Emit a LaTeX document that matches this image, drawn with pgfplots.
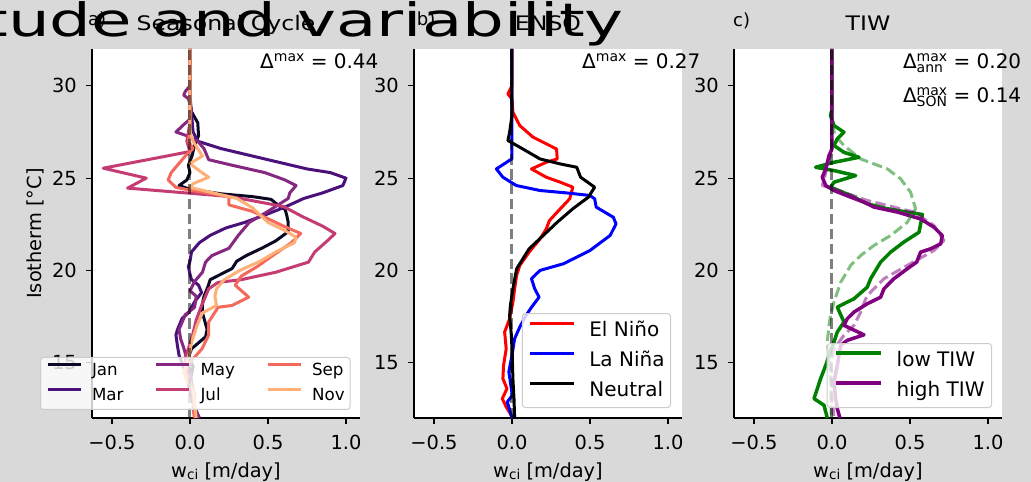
\documentclass[border=0pt]{standalone}
\usepackage{fontspec}
\setmainfont{DejaVu Sans}
\usepackage{pgfplots}
\pgfplotsset{compat=1.18}

\definecolor{figbg}{RGB}{217,217,217}
\definecolor{mJan}{HTML}{0B0924}
\definecolor{mMar}{HTML}{4B117A}
\definecolor{mMay}{HTML}{862781}
\definecolor{mJul}{HTML}{C53C74}
\definecolor{mSep}{HTML}{F4695C}
\definecolor{mNov}{HTML}{FEB078}
\definecolor{tiwgreen}{RGB}{0,128,0}
\definecolor{tiwpurple}{RGB}{128,0,128}

\newcommand{\fs}[1]{\fontsize{#1}{#1}\selectfont}
% Delta with stacked super- and subscript
\newcommand{\dsup}[1]{Δ{\fs{14}\raisebox{6.8pt}{#1}}}
\newcommand{\dsupsub}[2]{Δ{\fs{14}\setbox0=\hbox{\raisebox{6.8pt}{#1}}\setbox2=\hbox{\raisebox{-4pt}{#2}}%
  \ifdim\wd0>\wd2 \rlap{\box2}\box0\else\rlap{\box0}\box2\fi}}

\pgfplotsset{
  panel/.style={
    scale only axis, width=268pt, height=369pt,
    xmin=-0.628, xmax=1.09, ymin=12, ymax=32,
    axis lines*=left,
    axis line style={line width=1.1pt, black},
    tick align=outside, major tick length=6pt,
    tick style={line width=1.1pt, black},
    xtick={-0.5,0,0.5,1}, xticklabels={−0.5,0.0,0.5,1.0},
    ytick={15,20,25,30}, yticklabels={15,20,25,30},
    tick label style={font=\fs{19.4}},
    xticklabel style={anchor=north, inner sep=0pt, yshift=-11pt},
    yticklabel style={anchor=east, inner sep=0pt, xshift=-9pt},
    axis background/.style={fill=white},
    clip=false,
    xlabel={w{\fs{13.6}\raisebox{-2pt}{ci}} [m/day]},
    xlabel style={at={(axis description cs:0.5,-0.16)}, anchor=base, inner sep=0pt, font=\fs{19.4}},
    title style={at={(axis description cs:0.5,1)}, anchor=base, yshift=12pt, inner sep=0pt, xscale=1.18, font=\fs{20}},
    every axis plot/.append style={line width=3pt, line join=round},
    legend cell align=left,
    legend style={draw=black!20, line width=1pt, rounded corners=3pt,
      fill=white, fill opacity=0.8, text opacity=1},
  },
  zeroline/.style={black, opacity=0.5, line width=3pt, dash pattern=on 10.4pt off 4.5pt, forget plot},
}

\begin{document}
\begin{tikzpicture}[x=1pt,y=1pt]
\useasboundingbox (0,0) rectangle (1031,482);
\fill[figbg] (0,0) rectangle (1031,482);

% ---------------- a) seasonal cycle ----------------
\begin{axis}[panel, at={(92pt,64pt)}, anchor=south west,
  title={Seasonal Cycle},
  ylabel={Isotherm [°C]},
  ylabel style={at={(axis description cs:-0.187,0.5)}, rotate=0, anchor=base, inner sep=0pt, font=\fs{19.4}},
  legend columns=2, transpose legend,
  legend style={at={(axis description cs:-0.194,0.0217)}, anchor=south west,
    font=\fs{16.7}, inner xsep=5.5pt, inner ysep=5pt, row sep=8pt,
    nodes={inner sep=0pt, text height=13pt, text depth=4pt},
    /tikz/every odd column/.append style={column sep=10pt},
    /tikz/every even column/.append style={column sep=31pt}},
  legend image code/.code={\draw[#1, line width=3pt] (0pt,6pt) -- (33pt,6pt);},
]
\addplot[mJan] coordinates {(0.0,32) (0.0,29.0) (0.01,28.6) (0.05,28.0) (0.055,27.3) (0.03,26.8) (0.013,26.2) (-0.01,25.7) (0.0,25.3) (-0.02,24.9) (-0.07,24.6) (0.0,24.4) (0.2,24.15) (0.4,24.0) (0.52,23.85) (0.57,23.5) (0.61,23.3) (0.62,23.0) (0.63,22.6) (0.63,22.1) (0.55,21.6) (0.46,21.2) (0.36,20.8) (0.30,20.5) (0.27,20.1) (0.2,19.8) (0.13,19.5) (0.11,19.0) (0.09,18.6) (0.08,18.2) (0.08,17.7) (0.11,16.8) (0.1,16.4) (0.01,15.75) (-0.01,15.3) (0.02,14.8) (0.0,14.0) (0.02,13.0) (0.04,12.0)};
\addplot[mMar] coordinates {(0.0,32) (0.0,29.5) (0.01,28.5) (0.02,27.5) (0.05,27.0) (0.2,26.6) (0.4,26.2) (0.6,25.8) (0.75,25.5) (0.9,25.3) (1.0,25.0) (0.98,24.6) (0.85,24.2) (0.73,23.9) (0.6,23.4) (0.48,23.0) (0.35,22.6) (0.23,22.3) (0.13,21.9) (0.06,21.5) (0.01,21.0) (0.0,20.5) (-0.01,20.2) (0.0,19.8) (0.01,19.5) (0.055,19.2) (0.075,18.8) (0.03,18.3) (-0.01,17.7) (-0.05,17.4) (-0.08,16.8) (-0.09,16.5) (-0.08,15.9) (-0.07,15.4) (-0.03,14.5) (0.0,13.5) (0.02,12.8) (0.06,12.0)};
\addplot[mMay] coordinates {(0.0,32) (0.0,30.0) (-0.03,29.7) (-0.04,29.5) (-0.01,29.3) (0.01,28.7) (0.0,28.2) (-0.04,27.9) (-0.09,27.5) (-0.02,27.3) (0.05,27.0) (0.09,26.6) (0.12,26.0) (0.27,25.7) (0.48,25.3) (0.61,24.9) (0.68,24.6) (0.64,24.2) (0.63,23.9) (0.5,23.2) (0.38,22.6) (0.31,21.9) (0.25,21.2) (0.14,20.8) (0.1,20.45) (0.08,19.9) (0.03,19.4) (0.0,18.9) (0.04,18.6) (0.03,18.0) (-0.03,17.6) (-0.05,17.2) (-0.07,16.8) (-0.06,16.3) (-0.04,15.8) (-0.02,15.2) (0.0,14.5) (0.02,13.5) (0.03,12.5) (0.06,12.0)};
\addplot[mJul] coordinates {(0.0,32) (0.0,28.0) (-0.01,27.5) (-0.02,27.0) (0.0,26.44) (-0.556,25.54) (-0.28,25.0) (-0.40,24.46) (0.26,24.0) (0.60,23.46) (0.72,22.92) (0.85,22.4) (0.93,22.0) (0.88,21.6) (0.8,21.0) (0.76,20.45) (0.55,19.9) (0.33,19.5) (0.18,19.35) (0.12,19.0) (0.1,18.6) (0.07,18.0) (0.04,17.3) (0.02,16.6) (0.0,16.0) (-0.03,15.3) (-0.02,14.5) (0.0,13.8) (0.02,13.0) (0.03,12.0)};
\addplot[mSep] coordinates {(0.0,32) (0.0,28.0) (0.0,27.5) (-0.01,27.0) (0.02,26.6) (-0.03,26.2) (-0.12,25.3) (-0.14,24.9) (-0.09,24.5) (0.0,24.35) (0.25,24.0) (0.25,23.55) (0.4,23.2) (0.5,22.8) (0.6,22.4) (0.71,22.0) (0.65,21.5) (0.53,20.8) (0.43,20.2) (0.33,19.7) (0.29,19.2) (0.376,18.55) (0.27,18.1) (0.18,18.0) (0.12,17.2) (0.12,16.5) (0.077,15.75) (0.03,15.3) (0.0,15.0) (-0.03,14.5) (0.0,14.0) (0.03,13.3) (0.02,12.5) (0.03,12.0)};
\addplot[mNov] coordinates {(0.0,32) (0.0,27.5) (0.02,27.0) (0.08,26.2) (0.0,25.8) (0.06,25.4) (0.12,25.05) (0.02,24.7) (0.0,24.5) (0.15,24.2) (0.3,23.9) (0.40,23.4) (0.45,23.0) (0.5,22.6) (0.6,22.2) (0.68,21.8) (0.67,21.5) (0.55,21.0) (0.45,20.5) (0.32,20.0) (0.22,19.5) (0.17,19.0) (0.16,18.6) (0.17,18.1) (0.08,17.7) (0.045,17.0) (0.01,16.1) (0.0,15.6) (-0.02,15.0) (-0.04,14.5) (-0.02,14.0) (0.02,13.5) (0.03,12.8) (0.04,12.0)};
\addplot[zeroline] coordinates {(0,12) (0,32)};
\legend{Jan,Mar,May,Jul,Sep,Nov}
\node[anchor=base west, inner sep=0pt, font=\fs{20}] at (rel axis cs:0.627,0.9485) {\dsup{max} = 0.44};
\node[anchor=base west, inner sep=0pt, font=\fs{18}] at (rel axis cs:-0.015,1.065) {a)};
\end{axis}

% ---------------- b) ENSO ----------------
\begin{axis}[panel, at={(414pt,64pt)}, anchor=south west,
  title={ENSO},
  legend style={at={(axis description cs:0.959,0.027)}, anchor=south east,
    font=\fs{20}, inner xsep=6pt, inner ysep=7pt, row sep=10pt,
    nodes={inner sep=0pt, text height=15.5pt, text depth=4.5pt},
    /tikz/every odd column/.append style={column sep=14pt}},
  legend image code/.code={\draw[#1, line width=3pt] (0pt,7.5pt) -- (44pt,7.5pt);},
]
\addplot[red] coordinates {(0,32) (0,30.01) (-0.026,29.56) (0,29.29) (0.006,28.57) (0.05,27.85) (0.135,27.22) (0.22,26.86) (0.286,26.58) (0.29,26.04) (0.22,25.86) (0.125,25.50) (0.22,25.05) (0.31,24.78) (0.39,24.51) (0.37,23.88) (0.31,23.34) (0.24,22.70) (0.22,22.25) (0.18,21.71) (0.11,20.99) (0.05,20.27) (0.03,19.73) (0.017,19.0) (0.006,18.28) (-0.015,17.38) (-0.047,16.66) (-0.037,15.75) (-0.054,14.85) (-0.058,14.13) (-0.032,13.59) (-0.062,13.05) (-0.037,12.6) (0.006,12.0)};
\addplot[blue] coordinates {(0,32) (0,26.05) (-0.10,25.5) (-0.058,25.05) (0.028,24.6) (0.18,24.33) (0.35,24.2) (0.50,24.06) (0.53,23.88) (0.54,23.43) (0.65,22.88) (0.667,22.52) (0.63,21.9) (0.50,21.08) (0.33,20.36) (0.18,20.0) (0.125,19.55) (0.146,19.0) (0.174,18.55) (0.125,18.0) (0.09,17.56) (0.05,16.93) (0.017,16.3) (0,15.4) (-0.02,14.5) (-0.01,13.95) (0.002,13.23) (-0.03,12.87) (0,12)};
\addplot[black] coordinates {(0,32) (0,28.39) (-0.015,27.49) (-0.026,27.04) (0.07,26.58) (0.18,26.04) (0.31,25.77) (0.415,25.59) (0.44,25.05) (0.53,24.51) (0.49,23.97) (0.39,23.34) (0.29,22.61) (0.2,21.89) (0.11,21.17) (0.03,20.09) (0.006,19.0) (-0.01,18.1) (-0.015,17.56) (-0.004,16.48) (0.002,15.4) (0.006,14.13) (0.013,13.05) (0.017,12.0)};
\addplot[zeroline] coordinates {(0,12) (0,32)};
\legend{El Niño,La Niña,Neutral}
\node[anchor=base west, inner sep=0pt, font=\fs{20}] at (rel axis cs:0.627,0.9485) {\dsup{max} = 0.27};
\node[anchor=base west, inner sep=0pt, font=\fs{18}] at (rel axis cs:0.01,1.065) {b)};
\end{axis}

% ---------------- c) TIW ----------------
\begin{axis}[panel, at={(734pt,64pt)}, anchor=south west,
  title={TIW},
  every axis plot/.append style={line width=3.5pt},
  legend style={at={(axis description cs:0.963,0.027)}, anchor=south east,
    font=\fs{20}, inner xsep=7pt, inner ysep=7pt, row sep=10pt,
    nodes={inner sep=0pt, text height=15.5pt, text depth=4.5pt},
    /tikz/every odd column/.append style={column sep=14pt}},
  legend image code/.code={\draw[#1, line width=3.5pt] (0pt,7.5pt) -- (45pt,7.5pt);},
]
\addplot[tiwgreen] coordinates {(0,32) (0,28.75) (-0.009,28.39) (0.013,27.85) (0.077,27.49) (0.034,27.13) (0.013,26.77) (0.077,26.4) (0.173,26.13) (0.013,25.86) (-0.105,25.59) (0.013,25.41) (0.152,25.14) (0.013,24.78) (-0.009,24.51) (0.12,24.06) (0.226,23.61) (0.355,23.34) (0.483,23.16) (0.58,23.03) (0.558,22.07) (0.46,21.53) (0.376,20.99) (0.312,20.45) (0.248,19.55) (0.226,19.09) (0.141,18.46) (0.034,18.01) (0.077,17.2) (0.034,16.66) (0.013,16.12) (-0.019,15.39) (-0.04,14.85) (-0.073,14.13) (-0.115,13.05) (-0.051,12.69) (-0.03,12.0)};
\addplot[tiwpurple] coordinates {(0,32) (0,26.58) (-0.019,26.22) (-0.04,25.5) (-0.062,25.05) (-0.04,24.6) (0.013,24.33) (0.12,23.97) (0.205,23.7) (0.27,23.43) (0.42,23.16) (0.568,22.79) (0.654,22.34) (0.707,21.89) (0.697,21.44) (0.632,21.17) (0.568,20.99) (0.543,20.45) (0.483,20.09) (0.397,19.55) (0.333,19.0) (0.312,18.55) (0.226,18.19) (0.141,17.74) (0.098,17.38) (0.077,17.02) (0.205,16.51) (0.098,16.21) (0.056,15.94) (0.034,14.85) (0.013,13.95) (0.024,13.05) (0.034,12.51) (0.051,12.0)};
\addplot[tiwgreen, opacity=0.5, line width=3pt, dash pattern=on 10.4pt off 4.5pt, forget plot] coordinates {(0,32) (0,28.0) (0.02,27.3) (0.077,26.77) (0.184,26.04) (0.355,25.5) (0.44,24.96) (0.504,24.24) (0.536,23.34) (0.483,22.61) (0.376,21.89) (0.269,21.35) (0.184,20.81) (0.12,20.27) (0.056,19.36) (0.013,18.28) (-0.009,17.56) (-0.019,17.02) (-0.03,16.12) (-0.02,15.4) (-0.01,13.95) (-0.004,12)};
\addplot[tiwpurple, opacity=0.5, line width=3pt, dash pattern=on 10.4pt off 4.5pt, forget plot] coordinates {(0,32) (0,26.5) (-0.03,25.6) (-0.062,24.6) (0.013,24.42) (0.226,23.79) (0.526,23.16) (0.654,22.43) (0.718,21.62) (0.654,21.08) (0.483,20.27) (0.333,19.55) (0.248,18.82) (0.216,18.46) (0.184,17.74) (0.141,17.02) (0.077,16.48) (0.013,15.75) (-0.009,14.85) (0.002,13.05) (0.013,12)};
\addplot[zeroline] coordinates {(0,12) (0,32)};
\legend{low TIW,high TIW}
\node[anchor=base west, inner sep=0pt, font=\fs{20}] at (rel axis cs:0.63,0.9485) {\dsupsub{max}{ann} = 0.20};
\node[anchor=base west, inner sep=0pt, font=\fs{20}] at (rel axis cs:0.63,0.856) {\dsupsub{max}{SON} = 0.14};
\node[anchor=base west, inner sep=0pt, font=\fs{18}] at (rel axis cs:-0.004,1.06) {c)};
\end{axis}

% figure title, running off the left edge of the page
\node[anchor=base west, inner sep=0pt, xscale=1.43, font=\fs{46}] at (-18,445) {tude and variability};
\end{tikzpicture}
\end{document}
